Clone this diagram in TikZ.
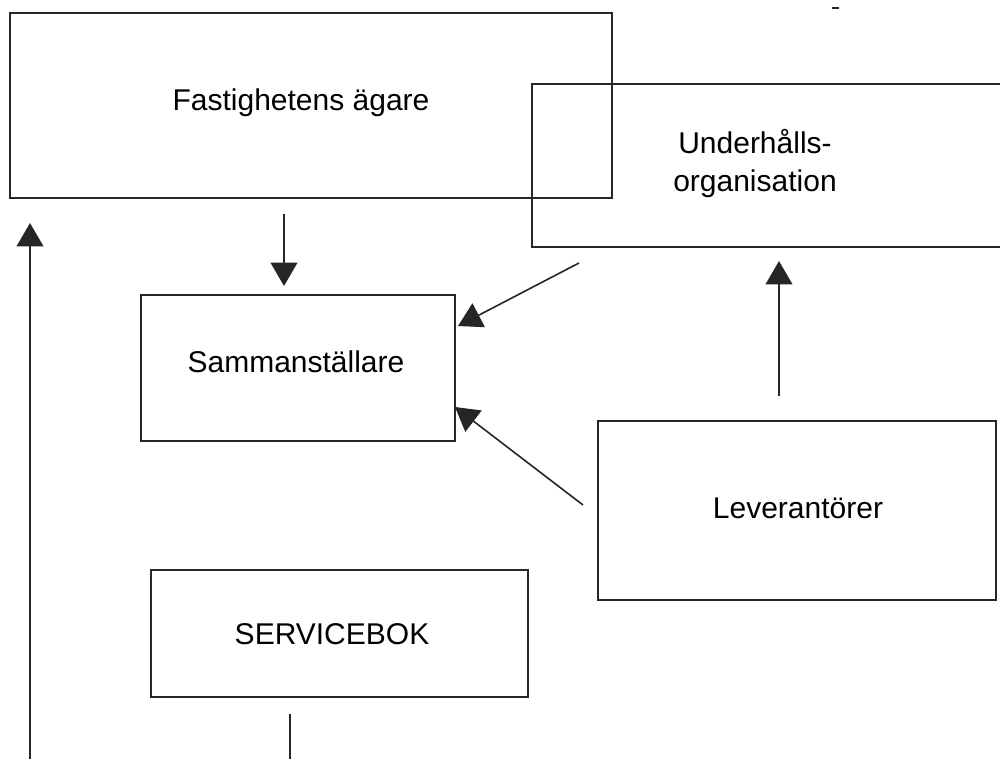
\documentclass[tikz,border=0pt]{standalone}
\usepackage{fontspec}
\setmainfont{Liberation Sans}
\usetikzlibrary{arrows.meta}
\begin{document}
\begin{tikzpicture}[x=0.75pt,y=-0.75pt,
  box/.style={draw=black!85,line width=1.2pt,rectangle,inner sep=0pt,anchor=north west},
  lbl/.style={font=\fontsize{22.5}{28.5}\selectfont,align=center,inner sep=0pt},
  arr/.style={draw=black!85,line width=1.2pt,-{Triangle[length=17.5pt,width=20pt]}},
  ln/.style={draw=black!85,line width=1.2pt}]
\useasboundingbox (0,0) rectangle (1000,758);
\clip (0,0) rectangle (1000,758);
\fill[white] (0,0) rectangle (1000,758);
% boxes
\node[box,minimum width=602*0.75pt,minimum height=185*0.75pt] (fa) at (9,12) {};
\node[box,minimum width=500*0.75pt,minimum height=163*0.75pt] (uo) at (531,83) {};
\node[box,minimum width=314*0.75pt,minimum height=146*0.75pt] (sa) at (140,294) {};
\node[box,minimum width=398*0.75pt,minimum height=179*0.75pt] (le) at (597,420) {};
\node[box,minimum width=377*0.75pt,minimum height=127*0.75pt] (sb) at (150,569) {};
% labels
\node[lbl] (fat) at (301,103) {Fastighetens ägare};
\node[lbl] (uot) at (755,164) {Underhålls-\\organisation};
\node[lbl] (sat) at (296,362) {Sammanställare};
\node[lbl] (let) at (798,508) {Leverantörer};
\node[lbl] (sbt) at (332,634) {SERVICEBOK};
% connector end points
\coordinate (a1s) at (284,214);
\coordinate (a1e) at (284,286);
\coordinate (a2s) at (579,263);
\coordinate (a2e) at (458,326);
\coordinate (a3s) at (583,505);
\coordinate (a3e) at (455,407);
\coordinate (a4s) at (779,396);
\coordinate (a4e) at (779,261);
\coordinate (a5s) at (30,760);
\coordinate (a5e) at (30,223);
\coordinate (l1s) at (290,714);
\coordinate (l1e) at (290,760);
\coordinate (d1s) at (832,8);
\coordinate (d1e) at (839,8);
% connectors
\draw[arr] (a1s) -- (a1e);
\draw[arr] (a2s) -- (a2e);
\draw[arr] (a3s) -- (a3e);
\draw[arr] (a4s) -- (a4e);
\draw[arr] (a5s) -- (a5e);
\draw[ln] (l1s) -- (l1e);
\draw[ln,line width=1.6pt] (d1s) -- (d1e);
\end{tikzpicture}
\end{document}
